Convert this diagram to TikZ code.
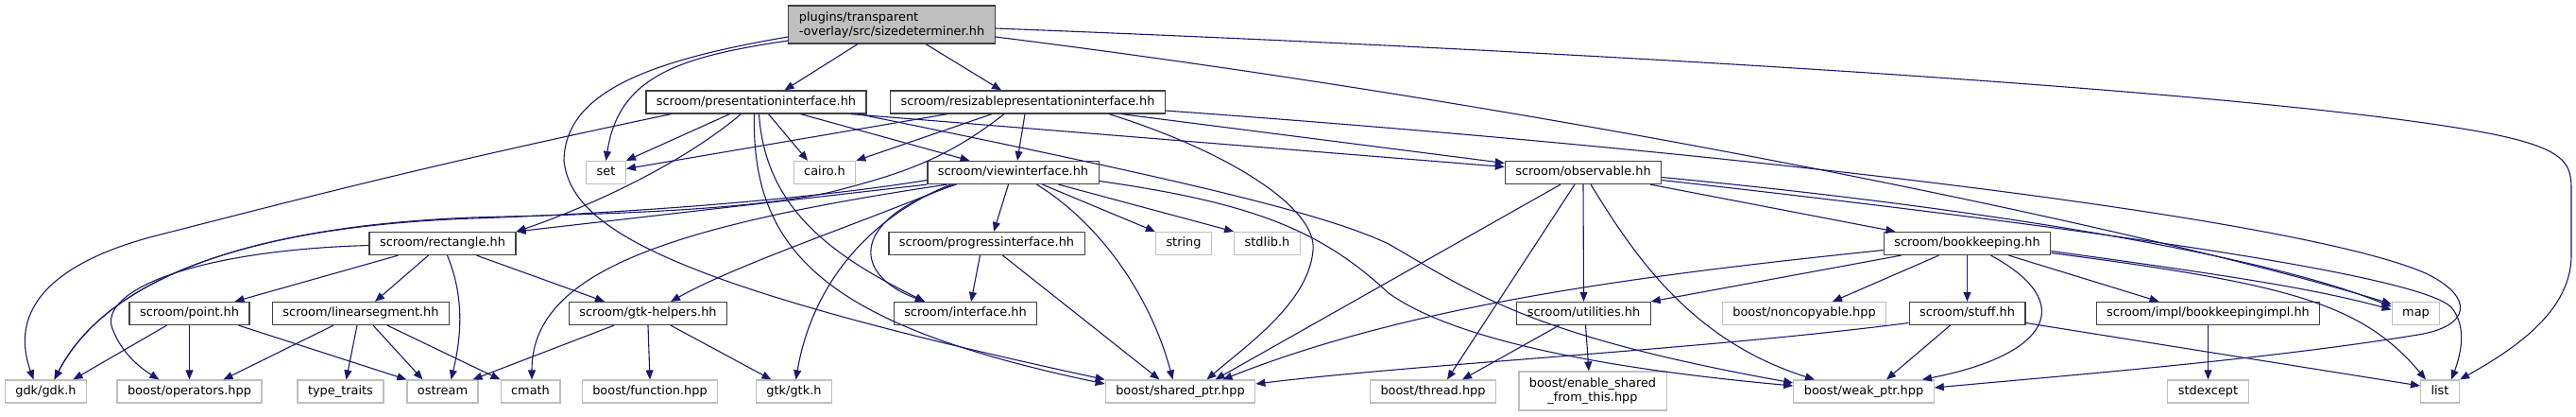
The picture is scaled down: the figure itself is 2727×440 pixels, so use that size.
\documentclass[tikz,border=0pt]{standalone}
\usepackage{fontspec}
\setmainfont{DejaVu Sans}
\usetikzlibrary{arrows.meta}

\definecolor{edgeblue}{HTML}{191970}
\definecolor{hdrgray}{HTML}{404040}
\definecolor{sysgray}{HTML}{BFBFBF}
\definecolor{mainfill}{HTML}{BFBFBF}

\begin{document}
\begin{tikzpicture}[
		x=1pt, y=-1pt,
		file/.style={rectangle, draw, line width=1.2pt, inner xsep=11pt, inner ysep=0pt,
			minimum height=24pt, text height=9.5pt, text depth=3pt,
			font=\fontsize{12.9}{15}\selectfont},
		hdr/.style={file, draw=hdrgray, fill=white},
		sys/.style={file, draw=sysgray, fill=white},
		topfile/.style={file, draw=hdrgray, fill=mainfill, align=left,
			minimum height=40pt, text height=, text depth=},
		dep/.style={-{Triangle[length=10pt, width=8pt]}, line width=1.1pt, color=edgeblue}
	]
		\path[use as bounding box] (0,0) rectangle (2727,440);

		% files
		\node[topfile] (sizedet) at (944,26) {plugins/transparent\\-overlay/src/sizedeterminer.hh};
		\node[hdr] (presif) at (800.5,108) {scroom/presentationinterface.hh};
		\node[hdr] (resizeif) at (1088,108) {scroom/resizablepresentationinterface.hh};
		\node[sys] (set) at (641.5,182.5) {set};
		\node[sys] (cairo) at (873,182.5) {cairo.h};
		\node[hdr] (viewif) at (1072.5,182.5) {scroom/viewinterface.hh};
		\node[hdr] (observable) at (1676,182.5) {scroom/observable.hh};
		\node[hdr] (rectangle) at (468.5,257.5) {scroom/rectangle.hh};
		\node[hdr] (progressif) at (1044.5,257.5) {scroom/progressinterface.hh};
		\node[sys] (string) at (1253,257.5) {string};
		\node[sys] (stdlib) at (1341.5,257.5) {stdlib.h};
		\node[hdr] (bookkeeping) at (2082.5,257.5) {scroom/bookkeeping.hh};
		\node[hdr] (point) at (200.5,331.5) {scroom/point.hh};
		\node[hdr] (linseg) at (382,331.5) {scroom/linearsegment.hh};
		\node[hdr] (gtkhelpers) at (686,331.5) {scroom/gtk-helpers.hh};
		\node[hdr] (iface) at (1022,331.5) {scroom/interface.hh};
		\node[hdr] (utilities) at (1676.5,331.5) {scroom/utilities.hh};
		\node[sys] (noncopyable) at (1910,331.5) {boost/noncopyable.hpp};
		\node[hdr] (stuff) at (2082.5,331.5) {scroom/stuff.hh};
		\node[hdr] (bkimpl) at (2337.5,331.5) {scroom/impl/bookkeepingimpl.hh};
		\node[sys] (map) at (2557.5,331.5) {map};
		\node[sys] (gdk) at (48.5,414) {gdk/gdk.h};
		\node[sys] (operators) at (200.5,414) {boost/operators.hpp};
		\node[sys] (typetraits) at (360.5,414) {type\_traits};
		\node[sys] (ostream) at (468.5,414) {ostream};
		\node[sys] (cmath) at (561.5,414) {cmath};
		\node[sys] (function) at (688,414) {boost/function.hpp};
		\node[sys] (gtk) at (840.5,414) {gtk/gtk.h};
		\node[sys] (sharedptr) at (1249.5,414) {boost/shared\_ptr.hpp};
		\node[sys] (thread) at (1517,414) {boost/thread.hpp};
		\node[sys, align=center, minimum height=41pt, text height=, text depth=] (enableshared) at (1686,413.5) {boost/enable\_shared\\\_from\_this.hpp};
		\node[sys] (weakptr) at (1973,414) {boost/weak\_ptr.hpp};
		\node[sys] (stdexcept) at (2337.5,414) {stdexcept};
		\node[sys] (list) at (2583,414) {list};

		% sizedeterminer.hh
		\draw[dep] ([xshift=-36]sizedet.south) -- ([xshift=30]presif.north);
		\draw[dep] ([xshift=36]sizedet.south) -- ([xshift=-28]resizeif.north);
		\draw[dep] ([yshift=-17]sizedet.west) .. controls (720,60) and (655,80) .. (set.north);
		\draw[dep] ([yshift=-13]sizedet.west) .. controls (680,65) and (598,100) .. (597,170)
			.. controls (605,240) and (700,300) .. (sharedptr.north west);
		\draw[dep] ([yshift=-13]sizedet.east) .. controls (1700,120) and (2300,250) .. ([yshift=10]map.west);
		\draw[dep] ([yshift=-4]sizedet.east) .. controls (1700,55) and (2350,95) .. (2600,135)
			.. controls (2715,153) and (2722,170) .. (2722,200) -- (2722,270)
			.. controls (2722,330) and (2660,370) .. (list.north east);

		% presentationinterface.hh
		\draw[dep] ([xshift=-90]presif.south) .. controls (450,175) and (300,215) .. (170,248)
			.. controls (50,278) and (10,330) .. ([xshift=-13]gdk.north);
		\draw[dep] ([xshift=-28]presif.south) -- (set.north east);
		\draw[dep] ([xshift=-16]presif.south) .. controls (720,175) and (620,220) .. (rectangle.north east);
		\draw[dep] ([xshift=-2]presif.south) .. controls (795,270) and (880,345) .. ([yshift=8]sharedptr.west);
		\draw[dep] ([xshift=3]presif.south) .. controls (810,220) and (880,270) .. ([xshift=-43]iface.north);
		\draw[dep] ([xshift=13]presif.south) -- ([xshift=-18]cairo.north);
		\draw[dep] ([xshift=47]presif.south) -- ([xshift=-46]viewif.north);
		\draw[dep] ([xshift=100]presif.south) -- ([yshift=6]observable.west);
		\draw[dep] ([xshift=108]presif.south) .. controls (1250,190) and (1400,225) .. (1470,258)
			.. controls (1560,310) and (1620,355) .. ([yshift=9]weakptr.west);

		% resizablepresentationinterface.hh
		\draw[dep] ([xshift=-85]resizeif.south) -- ([yshift=4]set.east);
		\draw[dep] ([xshift=-38]resizeif.south) -- (cairo.north east);
		\draw[dep] ([xshift=-25]resizeif.south) .. controls (1000,170) and (950,185) .. (880,203)
			.. controls (780,225) and (600,227) .. (500,230)
			.. controls (250,240) and (110,300) .. ([xshift=9]gdk.north);
		\draw[dep] ([xshift=-3]resizeif.south) -- ([xshift=4.5]viewif.north);
		\draw[dep] ([xshift=86]resizeif.south) .. controls (1300,160) and (1395,220) .. (1390,265)
			.. controls (1385,320) and (1320,365) .. ([xshift=28]sharedptr.north);
		\draw[dep] ([xshift=99]resizeif.south) -- ([yshift=10]observable.west);
		\draw[dep] ([yshift=-9]resizeif.east) .. controls (1900,165) and (2450,235) .. (2570,290)
			.. controls (2620,315) and (2615,345) .. (2560,354)
			.. controls (2400,380) and (2200,396) .. ([yshift=4]weakptr.east);

		% viewinterface.hh
		\draw[dep] ([yshift=-8]viewif.west) .. controls (850,212) and (650,226) .. (500,231)
			.. controls (250,240) and (110,300) .. ([xshift=9]gdk.north);
		\draw[dep] (viewif.south west) -- (rectangle.north east);
		\draw[dep] ([xshift=-70]viewif.south) .. controls (700,240) and (563,290) .. ([xshift=1.5]cmath.north);
		\draw[dep] ([xshift=-63]viewif.south) .. controls (900,240) and (780,280) .. ([xshift=24]gtkhelpers.north);
		\draw[dep] ([xshift=-66]viewif.south) .. controls (920,230) and (860,300) .. ([xshift=2]gtk.north);
		\draw[dep] ([xshift=-60]viewif.south) .. controls (900,230) and (900,290) .. ([xshift=-43]iface.north);
		\draw[dep] ([xshift=-5]viewif.south) -- ([xshift=7.5]progressif.north);
		\draw[dep] ([xshift=25]viewif.south) .. controls (1170,240) and (1220,320) .. ([xshift=-8]sharedptr.north);
		\draw[dep] ([xshift=31]viewif.south) -- (string.north west);
		\draw[dep] ([xshift=48]viewif.south) -- (stdlib.north west);
		\draw[dep] ([yshift=-9]viewif.east) .. controls (1330,215) and (1400,245) .. (1470,310)
			.. controls (1540,360) and (1700,390) .. ([yshift=6]weakptr.west);

		% progressinterface.hh
		\draw[dep] ([xshift=-7]progressif.south) -- ([xshift=6]iface.north);
		\draw[dep] ([xshift=17]progressif.south) -- ([xshift=-22]sharedptr.north);

		% observable.hh
		\draw[dep] ([xshift=-24]observable.south) -- ([xshift=37]sharedptr.north);
		\draw[dep] ([xshift=-9]observable.south) -- ([xshift=15]thread.north);
		\draw[dep] (observable.south) -- (utilities.north);
		\draw[dep] ([xshift=8]observable.south) .. controls (1730,270) and (1790,360) .. ([xshift=-52]weakptr.north);
		\draw[dep] ([xshift=71]observable.south) -- ([xshift=-76]bookkeeping.north);
		\draw[dep] ([yshift=-5]observable.east) .. controls (2100,220) and (2400,270) .. ([yshift=7]map.west);
		\draw[dep] ([yshift=-8]observable.east) .. controls (2200,240) and (2560,290) .. (2595,325)
			.. controls (2612,345) and (2605,375) .. ([xshift=12]list.north);

		% bookkeeping.hh
		\draw[dep] ([yshift=-7]bookkeeping.west) .. controls (1750,290) and (1500,320) .. ([xshift=45]sharedptr.north);
		\draw[dep] ([xshift=-70]bookkeeping.south) -- (utilities.north east);
		\draw[dep] ([xshift=-30]bookkeeping.south) -- ([xshift=30]noncopyable.north);
		\draw[dep] (bookkeeping.south) -- (stuff.north);
		\draw[dep] ([xshift=25]bookkeeping.south) .. controls (2200,320) and (2170,375) .. ([xshift=62]weakptr.north);
		\draw[dep] ([xshift=44]bookkeeping.south) -- ([xshift=-52]bkimpl.north);
		\draw[dep] ([yshift=-8]bookkeeping.east) .. controls (2350,290) and (2450,305) .. ([yshift=4]map.west);
		\draw[dep] ([yshift=-10]bookkeeping.east) .. controls (2420,300) and (2500,320) .. ([xshift=-15]list.north);

		% stuff.hh
		\draw[dep] ([yshift=-10]stuff.west) .. controls (1800,370) and (1500,385) .. ([yshift=8]sharedptr.east);
		\draw[dep] ([xshift=-18]stuff.south) -- ([xshift=24]weakptr.north);
		\draw[dep] ([yshift=-10]stuff.east) -- ([yshift=6]list.west);

		% utilities.hh, bookkeepingimpl.hh
		\draw[dep] ([xshift=-26]utilities.south) -- ([xshift=31]thread.north);
		\draw[dep] ([xshift=2]utilities.south) -- ([xshift=-4]enableshared.north);
		\draw[dep] (bkimpl.south) -- (stdexcept.north);

		% rectangle.hh
		\draw[dep] ([xshift=-47]rectangle.south) -- ([xshift=48]point.north);
		\draw[dep] ([xshift=-15]rectangle.south) -- ([xshift=15]linseg.north);
		\draw[dep] ([xshift=5]rectangle.south) .. controls (490,310) and (490,350) .. ([xshift=9]ostream.north);
		\draw[dep] ([xshift=36]rectangle.south) -- ([xshift=-46]gtkhelpers.north);
		\draw[dep] ([yshift=-2]rectangle.west) .. controls (200,265) and (100,310) .. (120,350)
			.. controls (130,375) and (150,390) .. ([xshift=-32]operators.north);

		% point.hh
		\draw[dep] ([xshift=-24]point.south) -- ([xshift=29]gdk.north);
		\draw[dep] (point.south) -- (operators.north);
		\draw[dep] ([xshift=52]point.south) -- (ostream.north west);

		% linearsegment.hh
		\draw[dep] ([xshift=-29]linseg.south) -- ([xshift=36]operators.north);
		\draw[dep] ([xshift=-4]linseg.south) -- ([xshift=6]typetraits.north);
		\draw[dep] ([xshift=13]linseg.south) -- ([xshift=-21]ostream.north);
		\draw[dep] ([xshift=28]linseg.south) -- (cmath.north west);

		% gtk-helpers.hh
		\draw[dep] ([xshift=-36]gtkhelpers.south) -- ([xshift=32]ostream.north);
		\draw[dep] (gtkhelpers.south) -- (function.north);
		\draw[dep] ([xshift=24]gtkhelpers.south) -- ([xshift=-24]gtk.north);
	\end{tikzpicture}
\end{document}
